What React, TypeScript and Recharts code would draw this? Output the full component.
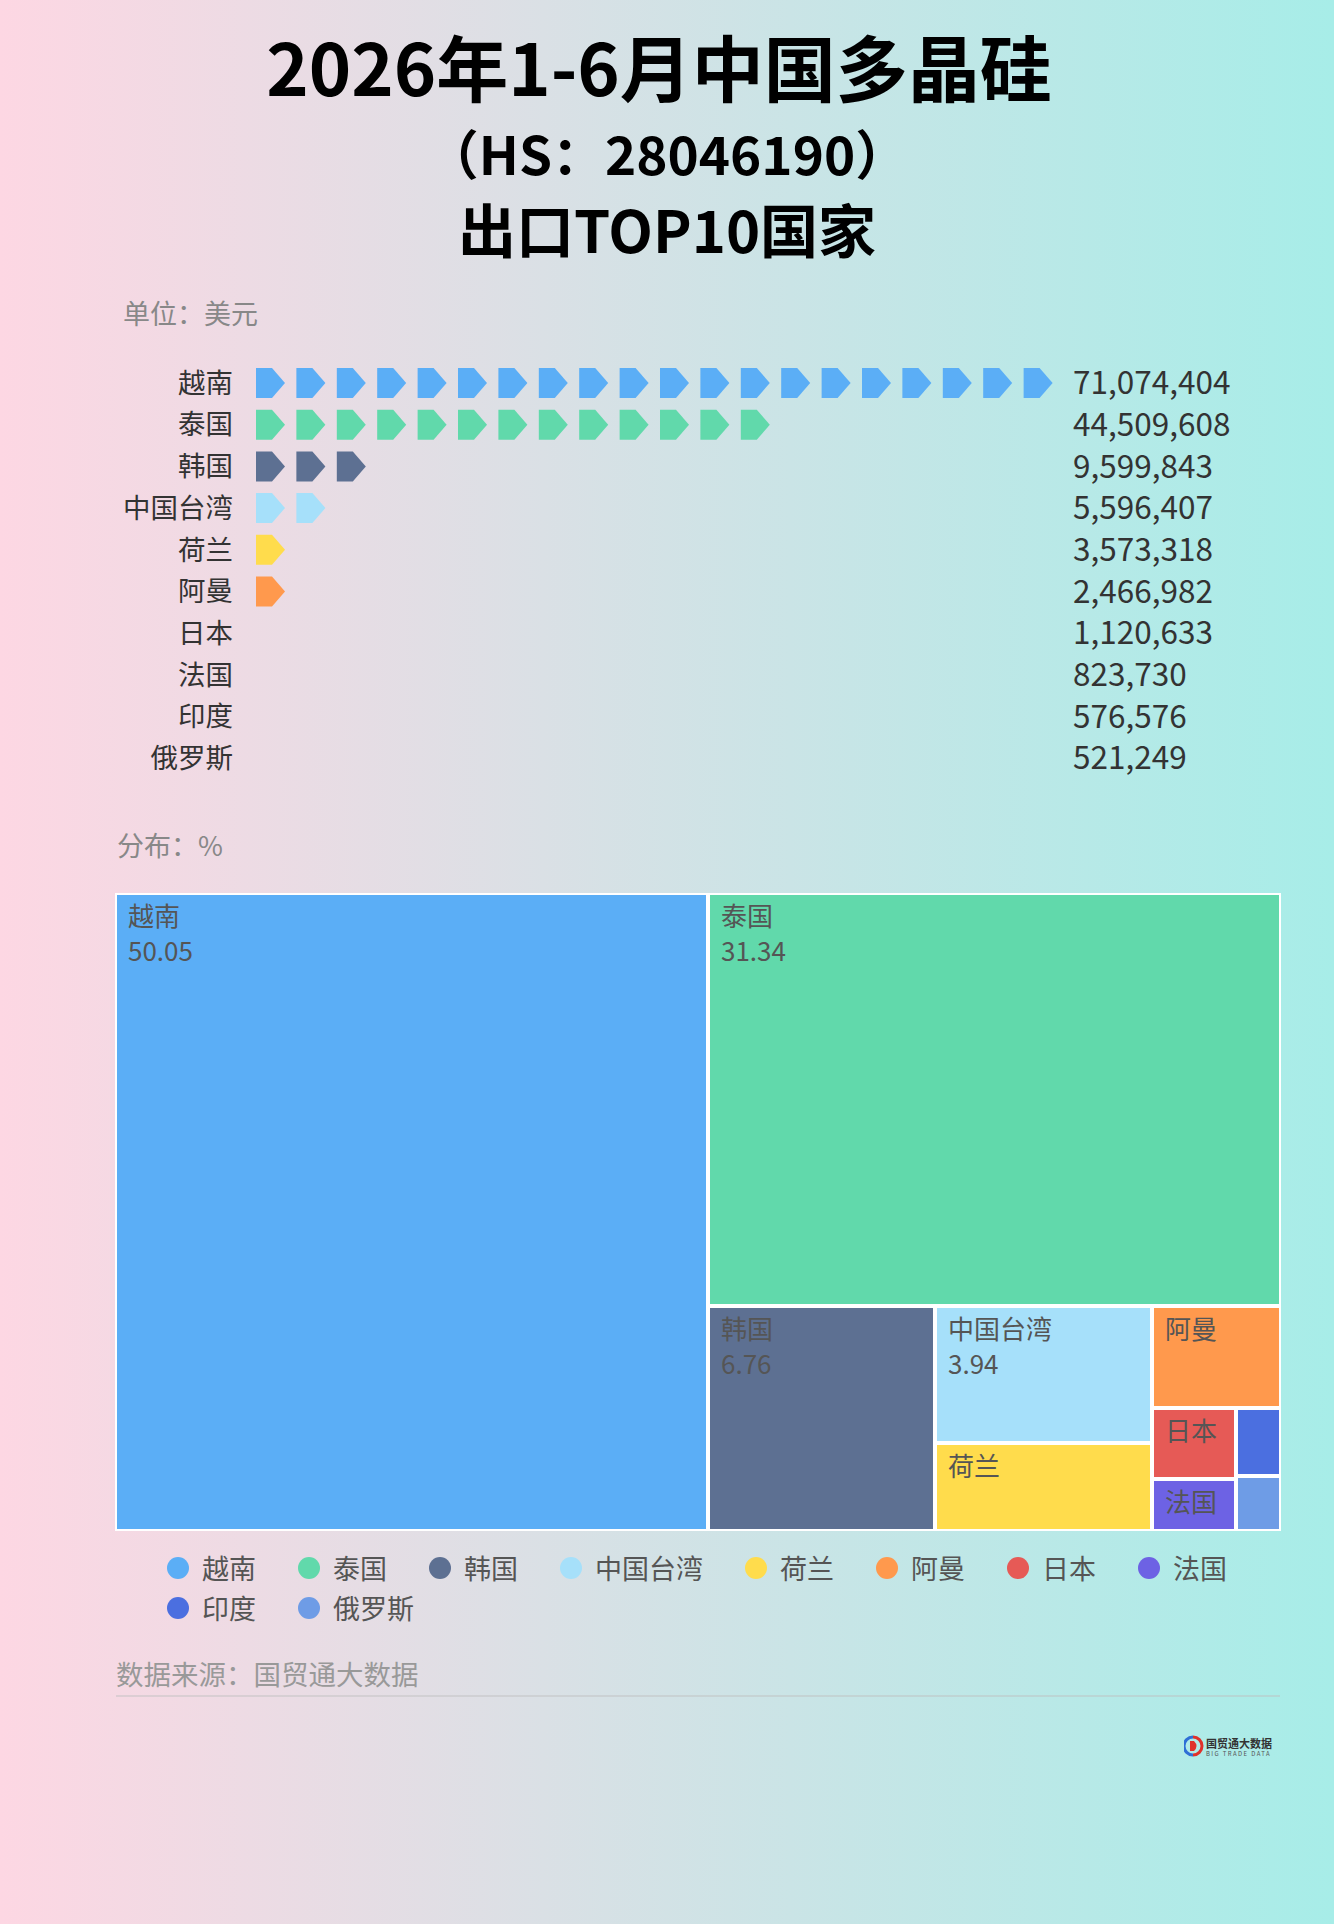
import React from 'react';
import { BarChart, Bar, XAxis, YAxis, Cell, Treemap } from 'recharts';

// 国家、出口额（美元）、占比（%）
const countries = ['越南', '泰国', '韩国', '中国台湾', '荷兰', '阿曼', '日本', '法国', '印度', '俄罗斯'];
const exportValues = [71074404, 44509608, 9599843, 5596407, 3573318, 2466982, 1120633, 823730, 576576, 521249];
const shares = [50.05, 31.34, 6.76, 3.94, 2.52, 1.74, 0.79, 0.58, 0.41, 0.37];
const colors = ['#5BAEF6', '#61D9AB', '#5D7092', '#A6E0FA', '#FFDC4C', '#FF994D', '#E65A56', '#6D62E4', '#4B6FE0', '#6E9CE6'];

const barData = countries.map((name, i) => ({ name, value: exportValues[i] }));
const treeData = countries.map((name, i) => ({ name, size: exportValues[i], share: shares[i], color: colors[i] }));

const FONT = '"Noto Sans CJK SC", "Noto Sans", sans-serif';
const ICON_PITCH = 40.4;
const ICON_W = 29;

// 箭头形图标，按条长重复绘制
const ArrowIcons = (props: any) => {
  const { x, y, width, height, fill } = props;
  const n = Math.round(width / ICON_PITCH);
  const mid = y + height / 2;
  const icons = [];
  for (let i = 0; i < n; i++) {
    const x0 = x + i * ICON_PITCH;
    const d = `M${x0},${y} L${x0 + 16},${y} L${x0 + ICON_W},${mid} L${x0 + 16},${y + height} L${x0},${y + height} Z`;
    icons.push(<path key={i} d={d} fill={fill} />);
  }
  return <g>{icons}</g>;
};

const NameTick = ({ x, y, payload }: any) => (
  <text x={x} y={y} dy="0.36em" textAnchor="end" fontSize={27.5} fill="#333" fontFamily={FONT}>
    {payload.value}
  </text>
);

const ValueTick = ({ x, y, payload }: any) => {
  const idx = countries.indexOf(payload.value);
  return (
    <text x={x} y={y} dy="0.36em" textAnchor="start" fontSize={31.5} fill="#333" fontFamily={FONT}>
      {exportValues[idx].toLocaleString('en-US')}
    </text>
  );
};

const TreeCell = (props: any) => {
  const { x, y, width, height, name, share, color, depth } = props;
  if (depth === 0 || !color) return <g />;
  const showName = width > 60 && height > 40;
  const showValue = showName && height > 110;
  return (
    <g>
      <rect x={x} y={y} width={width} height={height} fill={color} stroke="#fff" strokeWidth={4} />
      {showName && (
        <text x={x + 13} y={y + 33} fontSize={26} fill="#555" fontFamily={FONT}>
          {name}
        </text>
      )}
      {showValue && (
        <text x={x + 13} y={y + 68} fontSize={26} fill="#555" fontFamily={FONT}>
          {share.toFixed(2)}
        </text>
      )}
    </g>
  );
};

const Logo = () => (
  <svg width={90} height={24} style={{ position: 'absolute', left: 1184, top: 1735 }}>
    <path d="M9,2 A9,9 0 0 0 9,20" fill="none" stroke="#2F6FD6" strokeWidth={3} />
    <path d="M9,2 A9,9 0 0 1 9,20" fill="none" stroke="#E0322B" strokeWidth={3} />
    <path d="M6,6 L10,6 Q15,11 10,16 L6,16 Z" fill="#E0322B" />
    <text x={22} y={13} fontSize={11} fontWeight={700} fill="#333" fontFamily={FONT}>国贸通大数据</text>
    <text x={22} y={21} fontSize={6} fill="#555" fontFamily={FONT} letterSpacing={1.4}>BIG TRADE DATA</text>
  </svg>
);

const App = () => {
  return (
    <div
      style={{
        position: 'absolute',
        left: 0,
        top: 0,
        width: 1334,
        height: 1924,
        background: 'linear-gradient(90deg, #FDD7E3 0%, #A7EDE8 100%)',
        fontFamily: FONT,
        overflow: 'hidden',
      }}
    >
      {/* 标题 */}
      <div style={{ position: 'absolute', top: 22, left: -8, width: 1334, textAlign: 'center', fontSize: 72, fontWeight: 700, color: '#000', lineHeight: '86px' }}>
        2026年1-6月中国多晶硅
      </div>
      <div style={{ position: 'absolute', top: 120, width: 1334, textAlign: 'center', fontSize: 53, fontWeight: 700, color: '#000', lineHeight: '64px' }}>
        （HS：28046190）
      </div>
      <div style={{ position: 'absolute', top: 193, width: 1334, textAlign: 'center', fontSize: 58, fontWeight: 700, color: '#000', lineHeight: '70px' }}>
        出口TOP10国家
      </div>

      <div style={{ position: 'absolute', left: 123, top: 294, fontSize: 27, color: '#888', lineHeight: '38px' }}>单位：美元</div>

      {/* 象形柱图 */}
      <div style={{ position: 'absolute', left: 0, top: 350 }}>
        <BarChart width={1334} height={441} data={barData} layout="vertical" margin={{ top: 12, right: 0, bottom: 12, left: 0 }}>
          <XAxis type="number" hide domain={[0, 'dataMax']} />
          <YAxis
            yAxisId="left"
            type="category"
            dataKey="name"
            width={256}
            axisLine={false}
            tickLine={false}
            tickSize={0}
            tickMargin={23}
            tick={<NameTick />}
            interval={0}
          />
          <YAxis
            yAxisId="right"
            orientation="right"
            type="category"
            dataKey="name"
            width={270}
            axisLine={false}
            tickLine={false}
            tickSize={0}
            tickMargin={9}
            tick={<ValueTick />}
            interval={0}
          />
          <Bar yAxisId="left" dataKey="value" barSize={30} shape={<ArrowIcons />} isAnimationActive={false}>
            {barData.map((d, i) => (
              <Cell key={d.name} fill={colors[i]} />
            ))}
          </Bar>
        </BarChart>
      </div>

      <div style={{ position: 'absolute', left: 117, top: 826, fontSize: 27, color: '#888', lineHeight: '38px' }}>分布：%</div>

      {/* 矩形树图 */}
      <div style={{ position: 'absolute', left: 115, top: 893 }}>
        <Treemap
          width={1166}
          height={638}
          data={treeData}
          dataKey="size"
          nameKey="name"
          isAnimationActive={false}
          content={<TreeCell />}
        />
      </div>

      {/* 图例 */}
      <div style={{ position: 'absolute', left: 167, top: 1548, width: 1140, display: 'flex', flexWrap: 'wrap' }}>
        {countries.map((name, i) => (
          <div key={name} style={{ display: 'flex', alignItems: 'center', height: 40, marginRight: 42 }}>
            <div style={{ width: 22, height: 22, borderRadius: 11, background: colors[i], marginRight: 13 }} />
            <span style={{ fontSize: 27, color: '#555', lineHeight: '40px' }}>{name}</span>
          </div>
        ))}
      </div>

      <div style={{ position: 'absolute', left: 116, top: 1654, fontSize: 27.5, color: '#999', lineHeight: '38px' }}>数据来源：国贸通大数据</div>
      <div style={{ position: 'absolute', left: 116, top: 1695, width: 1164, height: 2, background: 'rgba(190,190,190,0.45)' }} />

      <Logo />
    </div>
  );
};

export default App;
